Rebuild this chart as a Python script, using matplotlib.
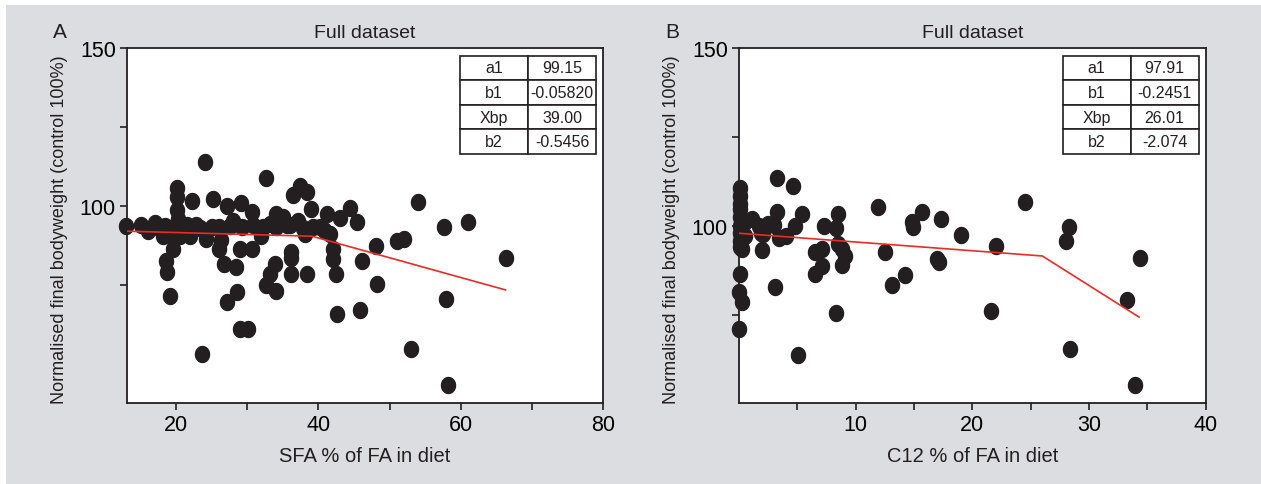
import numpy as np
import matplotlib
matplotlib.use("Agg")
import matplotlib.pyplot as plt
from matplotlib.path import Path
from matplotlib.patches import Rectangle

plt.rcParams['font.family'] = ['Liberation Sans', 'DejaVu Sans']

# panel A: SFA % of FA in diet vs normalised final bodyweight
sfa_x = [24.0, 13.0, 15.1, 16.1, 17.0, 18.4, 18.2, 20.1, 20.1, 20.1, 20.3, 20.8, 20.5,
         19.5, 18.6, 18.7, 19.1, 22.2, 21.9, 22.8, 23.7, 25.2, 24.2, 25.0, 26.0, 26.1,
         27.1, 26.8, 28.4, 28.5, 27.1, 29.0, 30.1, 29.1, 28.0, 29.2, 29.0, 30.6, 30.6,
         32.7, 32.2, 32.0, 34.0, 34.1, 35.0, 36.0, 37.1, 36.4, 37.4, 38.4, 39.0, 38.1,
         39.3, 40.2, 41.2, 41.6, 43.0, 44.4, 45.4, 42.1, 42.1, 42.5, 36.1, 36.1, 36.2,
         38.4, 33.9, 33.2, 32.7, 34.1, 42.6, 45.9, 48.1, 46.1, 48.3, 54.0, 57.6, 61.0,
         51.0, 52.1, 66.4, 57.9, 53.0, 58.2,
         17.6, 19.2, 21.5, 23.4, 27.6, 30.8, 33.2, 35.6, 37.9, 40.8, 19.6, 26.3]
sfa_y = [113.9, 93.7, 93.9, 92.0, 94.7, 93.7, 90.5, 105.7, 102.8, 98.9, 96.0, 92.8, 90.5,
         86.5, 82.5, 79.3, 71.7, 101.8, 90.7, 93.9, 53.3, 102.3, 89.7, 93.4, 86.5, 93.4,
         100.2, 81.7, 80.7, 72.8, 69.6, 61.2, 61.2, 101.0, 95.4, 93.4, 86.5, 98.1, 86.5,
         108.9, 93.4, 90.7, 97.6, 93.4, 96.5, 93.9, 95.4, 103.4, 106.5, 104.6, 99.1, 91.2,
         93.4, 93.4, 97.6, 91.2, 96.2, 99.4, 95.1, 86.5, 83.3, 78.6, 85.4, 83.6, 78.6,
         78.6, 81.7, 78.6, 74.9, 73.0, 65.9, 67.0, 87.5, 82.8, 75.4, 101.3, 93.5, 94.9,
         89.1, 89.7, 83.5, 70.5, 54.8, 43.5,
         93.0, 93.2, 94.0, 93.0, 93.6, 94.2, 94.4, 94.0, 93.2, 92.6, 90.2, 89.3]
sfa_fit_x = [13.0, 39.1, 66.3]
sfa_fit_y = [92.1, 90.5, 73.5]

# panel B: C12 % of FA in diet
c12_x = [0.1, 0.1, 0.1, 0.1, 0.1, 0.1, 0.1, 0.1, 0.1, 0.26, 0.1, 0.0, 0.26, 0.0, 0.4, 0.5,
         3.26, 4.6, 3.26, 5.4, 4.8, 1.1, 1.7, 2.5, 2.1, 3.4, 4.0, 2.0, 3.1, 5.1, 7.3,
         6.5, 7.1, 6.5, 7.1, 8.5, 8.3, 8.5, 8.8, 9.1, 8.8, 8.3, 11.95, 12.5, 14.2, 13.1,
         14.8, 14.9, 15.7, 17.3, 16.95, 17.15, 19.0, 22.0, 21.6, 24.5, 28.3, 28.0, 34.4,
         33.3, 28.4, 33.96, 1.9, 3.0]
c12_y = [110.6, 108.5, 106.1, 104.7, 102.4, 100.0, 98.1, 95.8, 93.9, 93.4, 86.4, 81.4, 78.4,
         70.8, 100.8, 97.0,
         113.4, 111.1, 103.8, 103.3, 100.0, 101.9, 100.0, 100.5, 97.7, 96.7, 97.2, 93.2,
         82.9, 63.6, 100.0, 92.5, 93.4, 86.4, 88.7, 103.3, 99.5, 94.8, 93.4, 91.5, 88.9,
         75.3, 105.2, 92.5, 86.1, 83.2, 101.1, 99.8, 104.0, 101.9, 90.6, 89.8, 97.4, 94.2,
         76.0, 106.6, 99.7, 95.6, 90.8, 79.1, 65.2, 55.1, 98.1, 100.2]
c12_fit_x = [0.0, 26.01, 34.3]
c12_fit_y = [97.9, 91.5, 74.3]

params_a = [["a1", "99.15"], ["b1", "-0.05820"], ["Xbp", "39.00"], ["b2", "-0.5456"]]
params_b = [["a1", "97.91"], ["b1", "-0.2451"], ["Xbp", "26.01"], ["b2", "-2.074"]]

# slightly tall ellipse like the printed dots
t = np.linspace(0, 2 * np.pi, 60)
dot = Path(np.column_stack([0.88 * np.cos(t), np.sin(t)]), closed=True)

W, H = 1261, 485
fig = plt.figure(figsize=(W / 100, H / 100), dpi=100, facecolor='white')
fig.add_artist(Rectangle((6 / W, 0), 1, 1 - 6 / H, transform=fig.transFigure,
                         facecolor='#dcdde0', edgecolor='none', zorder=-10))


def panel(left, right, x, y, fx, fy, xlim, ylim, xmaj, xmin, ymaj, ymin,
          xlabel, letter, params, tb_x0):
    top, bottom = 49.3, 404.3
    ax = fig.add_axes([left / W, 1 - bottom / H, (right - left) / W, (bottom - top) / H])
    ax.set_facecolor('white')
    ax.plot(x, y, linestyle='none', marker=dot, ms=11.5, color='#231f20', zorder=3,
            clip_on=False)
    ax.plot(fx, fy, color='#ee2a24', lw=1.2, zorder=4)
    ax.set_xlim(xlim)
    ax.set_ylim(ylim)
    ax.set_xticks(xmaj)
    ax.set_xticks(xmin, minor=True)
    ax.set_yticks(ymaj)
    ax.set_yticks(ymin, minor=True)
    ax.tick_params(which='both', direction='out', length=5, width=1.2, color='#231f20',
                   labelsize=15.5, pad=3)
    for s in ax.spines.values():
        s.set_linewidth(1.3)
        s.set_color('#231f20')
    h = bottom - top
    ax.text(0.5, (bottom - 33) / h, "Full dataset", transform=ax.transAxes,
            ha='center', va='center', fontsize=14, color='#231f20')
    ax.text(0.5, (bottom - 457) / h, xlabel, transform=ax.transAxes,
            ha='center', va='center', fontsize=14.5, color='#231f20')
    ax.text(-67 / (right - left), (bottom - 230) / h,
            "Normalised final bodyweight (control 100%)", transform=ax.transAxes,
            rotation=90, ha='center', va='center', fontsize=13, color='#231f20')
    fig.text((left - 67) / W, 1 - 33 / H, letter, ha='center', va='center',
             fontsize=15, color='#231f20')
    tb_x1 = right - 7
    tb = ax.table(cellText=params, cellLoc='center',
                  bbox=[(tb_x0 - left) / (right - left), (bottom - 155) / h,
                        (tb_x1 - tb_x0) / (right - left), (155 - 56.7) / h])
    tb.auto_set_font_size(False)
    tb.set_fontsize(11.5)
    tb.set_zorder(5)
    for c in tb.get_celld().values():
        c.set_edgecolor('#231f20')
        c.set_linewidth(1.2)
        c.set_facecolor('white')
        c.get_text().set_color('#231f20')
    return ax


panel(127, 603, sfa_x, sfa_y, sfa_fit_x, sfa_fit_y, (13.1, 80), (37.6, 150),
      [20, 40, 60, 80], [30, 50, 70], [100, 150], [75, 125],
      "SFA % of FA in diet", "A", params_a, 460)
panel(739, 1205.5, c12_x, c12_y, c12_fit_x, c12_fit_y, (0, 40), (50, 150),
      [10, 20, 30, 40], [5, 15, 25, 35], [100, 150], [75, 125],
      "C12 % of FA in diet", "B", params_b, 1062.6)

fig.savefig("out.png", dpi=100, facecolor=fig.get_facecolor())
